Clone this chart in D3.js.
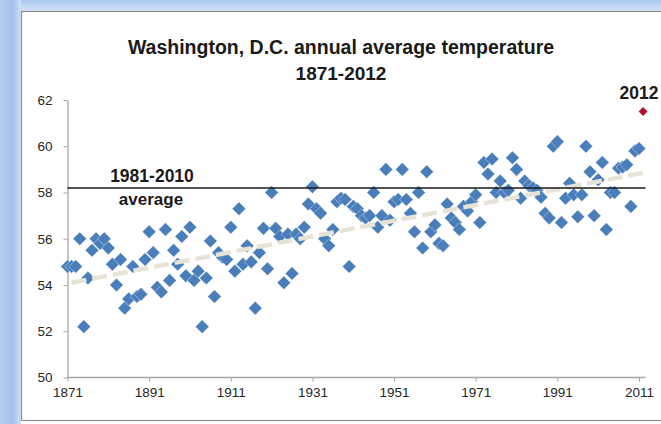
<!DOCTYPE html>
<html>
<head>
<meta charset="utf-8">
<script src="https://cdn.jsdelivr.net/npm/d3@7/dist/d3.min.js"></script>
<style>
  html, body { margin: 0; padding: 0; background: #ffffff; }
  svg { display: block; }
  text { font-family: "Liberation Sans", Arial, sans-serif; }
</style>
</head>
<body>
<svg id="chart" width="661" height="424"></svg>
<script>
// ---------------- data ----------------
const titleLines = ["Washington, D.C. annual average temperature", "1871-2012"];
const startYear = 1871;
// annual average temperature (°F), 1871 ... 2012
const temps = [
  54.8, 54.8, 54.8, 56.0, 52.2, 54.3, 55.5, 56.0, 55.8, 56.0,
  55.6, 54.9, 54.0, 55.1, 53.0, 53.4, 54.8, 53.5, 53.6, 55.1,
  56.3, 55.4, 53.9, 53.7, 56.4, 54.2, 55.5, 54.9, 56.1, 54.4,
  56.5, 54.2, 54.6, 52.2, 54.3, 55.9, 53.5, 55.4, 55.2, 55.1,
  56.5, 54.6, 57.3, 54.9, 55.7, 55.0, 53.0, 55.4, 56.45, 54.7,
  58.0, 56.45, 56.1, 54.1, 56.2, 54.5, 56.2, 56.0, 56.5, 57.5,
  58.25, 57.3, 57.1, 56.0, 55.7, 56.4, 57.6, 57.75, 57.7, 54.8,
  57.4, 57.3, 57.0, 56.9, 57.0, 58.0, 56.5, 57.0, 59.0, 56.8,
  57.6, 57.7, 59.0, 57.7, 57.1, 56.3, 58.0, 55.6, 58.9, 56.3,
  56.6, 55.8, 55.7, 57.5, 56.9, 56.7, 56.4, 57.4, 57.2, 57.6,
  57.9, 56.7, 59.3, 58.8, 59.45, 58.0, 58.5, 58.0, 58.1, 59.5,
  59.0, 57.75, 58.5, 58.3, 58.2, 58.1, 57.8, 57.1, 56.9, 60.0,
  60.2, 56.7, 57.75, 58.4, 57.9, 56.95, 57.9, 60.0, 58.9, 57.0,
  58.55, 59.3, 56.4, 58.0, 58.0, 59.05, 59.1, 59.2, 57.4, 59.8,
  59.9, 61.5
];
const highlightYear = 2012;
const normalValue = 58.2;               // 1981-2010 average
const normalLabel = ["1981-2010", "average"];
const trendYears = [1872, 2012];
const trendValues = [54.1, 58.85];
const xTicks = [1871, 1891, 1911, 1931, 1951, 1971, 1991, 2011];
const yTicks = [50, 52, 54, 56, 58, 60, 62];

const points = temps.map((v, i) => ({ year: startYear + i, value: v }));

// ---------------- drawing ----------------
const svg = d3.select("#chart");
const defs = svg.append("defs");

const gTop = defs.append("linearGradient").attr("id", "gTop").attr("x1", 0).attr("y1", 0).attr("x2", 0).attr("y2", 1);
gTop.append("stop").attr("offset", "0%").attr("stop-color", "#a9c7ee");
gTop.append("stop").attr("offset", "100%").attr("stop-color", "#d6e5f7");
const gLeft = defs.append("linearGradient").attr("id", "gLeft").attr("x1", 0).attr("y1", 0).attr("x2", 1).attr("y2", 0);
gLeft.append("stop").attr("offset", "0%").attr("stop-color", "#b5cff0");
gLeft.append("stop").attr("offset", "60%").attr("stop-color", "#9fc0ec");
gLeft.append("stop").attr("offset", "100%").attr("stop-color", "#cfe0f5");

// frame
svg.append("rect").attr("x", 0).attr("y", 0).attr("width", 661).attr("height", 12).attr("fill", "url(#gTop)");
svg.append("rect").attr("x", 0).attr("y", 0).attr("width", 21).attr("height", 424).attr("fill", "url(#gLeft)");
svg.append("rect").attr("x", 21.5).attr("y", 11.5).attr("width", 660).attr("height", 409)
  .attr("fill", "#ffffff").attr("stroke", "#8f8f8f").attr("stroke-width", 1.2);

const x = d3.scaleLinear().domain([1871, 2011]).range([67.5, 639]);
const y = d3.scaleLinear().domain([50, 62]).range([377.5, 100]);

// title
svg.append("text").attr("x", 341).attr("y", 54).attr("text-anchor", "middle")
  .attr("font-size", 19.5).attr("font-weight", "bold").attr("fill", "#1a1a1a").text(titleLines[0]);
svg.append("text").attr("x", 341).attr("y", 80).attr("text-anchor", "middle")
  .attr("font-size", 19).attr("font-weight", "bold").attr("fill", "#1a1a1a").text(titleLines[1]);

// axes
const axisColor = "#a6a6a6";
const xAxis = d3.axisBottom(x).tickValues(xTicks).tickFormat(d3.format("d")).tickSize(4).tickSizeOuter(0);
const gx = svg.append("g").attr("transform", `translate(0,${y(50)})`).call(xAxis);
gx.select(".domain").remove();
gx.append("line").attr("x1", x(1871)).attr("x2", x(2012.6)).attr("y1", 0).attr("y2", 0)
  .attr("stroke", axisColor).attr("stroke-width", 1.3);
gx.selectAll(".tick line").attr("stroke", axisColor);
gx.selectAll(".tick text").attr("font-size", 13.5).attr("fill", "#262626").attr("dy", "0.95em")
  .style("font-family", "'Liberation Sans', Arial, sans-serif");

const yAxis = d3.axisLeft(y).tickValues(yTicks).tickFormat(d3.format("d")).tickSize(4).tickSizeOuter(0);
const gy = svg.append("g").attr("transform", `translate(${x(1871)},0)`).call(yAxis);
gy.select(".domain").attr("stroke", axisColor).attr("stroke-width", 1.3);
gy.selectAll(".tick line").attr("stroke", axisColor);
gy.selectAll(".tick text").attr("font-size", 13.5).attr("fill", "#262626").attr("x", -15)
  .style("font-family", "'Liberation Sans', Arial, sans-serif");

// points
const sq = d3.symbol().type(d3.symbolSquare).size(92);
svg.append("g").selectAll("path.pt")
  .data(points.filter(d => d.year !== highlightYear))
  .join("path")
  .attr("class", "pt")
  .attr("d", sq)
  .attr("transform", d => `translate(${x(d.year)},${y(d.value)}) rotate(45)`)
  .attr("fill", "#4a7ebb")
  .attr("stroke", "#ffffff").attr("stroke-width", 0.5).attr("stroke-opacity", 0.7);

// trend line (dashed)
const trend = trendYears.map((yr, i) => ({ year: yr, value: trendValues[i] }));
svg.append("path").datum(trend)
  .attr("d", d3.line().x(d => x(d.year)).y(d => y(d.value)))
  .attr("fill", "none").attr("stroke", "#e7e3d6").attr("stroke-width", 4.5)
  .attr("stroke-dasharray", "15,6");

// 1981-2010 average line
svg.append("line").attr("x1", x(1871)).attr("x2", x(2012.6))
  .attr("y1", y(normalValue)).attr("y2", y(normalValue))
  .attr("stroke", "#1a1a1a").attr("stroke-width", 1.5);
svg.append("text").attr("x", 152).attr("y", 182).attr("text-anchor", "middle")
  .attr("font-size", 17.5).attr("font-weight", "bold").attr("fill", "#1a1a1a").text(normalLabel[0]);
svg.append("text").attr("x", 151).attr("y", 205).attr("text-anchor", "middle")
  .attr("font-size", 17).attr("font-weight", "bold").attr("fill", "#1a1a1a").text(normalLabel[1]);

// 2012 highlight
const hp = points.find(d => d.year === highlightYear);
svg.append("path").attr("d", d3.symbol().type(d3.symbolSquare).size(40))
  .attr("transform", `translate(${x(hp.year)},${y(hp.value)}) rotate(45)`)
  .attr("fill", "#b5122a");
svg.append("text").attr("x", x(hp.year) - 4).attr("y", 99).attr("text-anchor", "middle")
  .attr("font-size", 17.5).attr("font-weight", "bold").attr("fill", "#1a1a1a").text(String(highlightYear));
</script>
</body>
</html>
